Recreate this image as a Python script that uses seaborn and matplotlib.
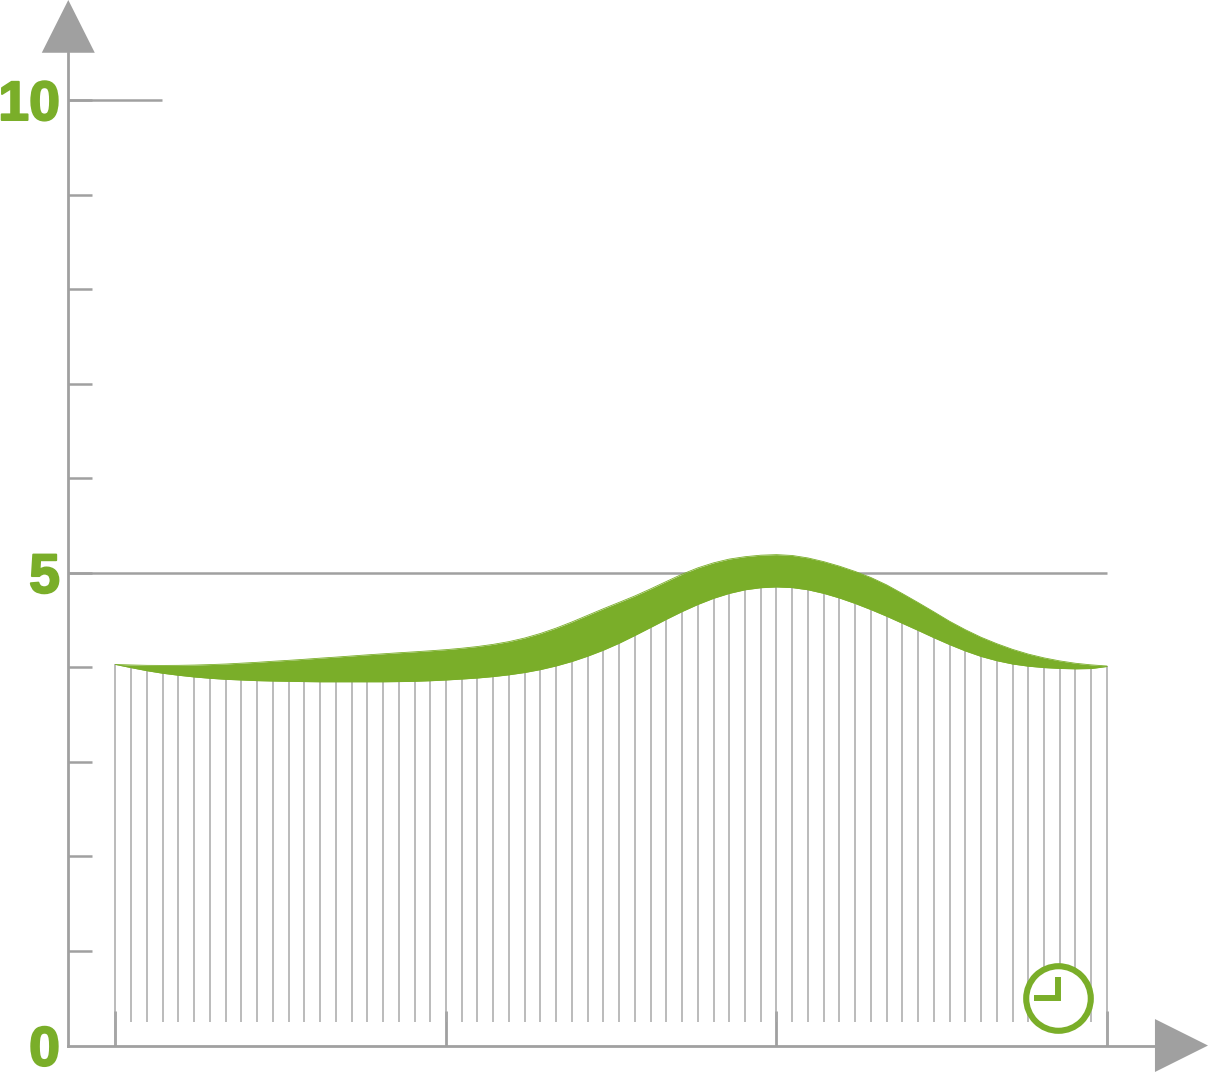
import numpy as np
import matplotlib
matplotlib.use("Agg")
import matplotlib.pyplot as plt
import matplotlib.patheffects as pe
from matplotlib.patches import Polygon
import seaborn as sns

# values, one per vertical line
upper = [4.03, 4.025, 4.021, 4.02, 4.021, 4.024, 4.029, 4.035, 4.044, 4.053,
         4.064, 4.074, 4.085, 4.097, 4.108, 4.12, 4.132, 4.143, 4.154, 4.164,
         4.175, 4.187, 4.202, 4.22, 4.243, 4.272, 4.31, 4.358, 4.415, 4.48,
         4.55, 4.62, 4.687, 4.755, 4.83, 4.908, 4.985, 5.052, 5.105, 5.145,
         5.17, 5.186, 5.192, 5.183, 5.157, 5.118, 5.07, 5.014, 4.95, 4.872,
         4.78, 4.685, 4.587, 4.487, 4.398, 4.318, 4.25, 4.19, 4.14, 4.10,
         4.068, 4.043, 4.026, 4.014]
lower = [4.03, 3.996, 3.964, 3.937, 3.916, 3.898, 3.884, 3.873, 3.866, 3.859,
         3.855, 3.852, 3.849, 3.847, 3.847, 3.847, 3.847, 3.847, 3.849, 3.852,
         3.858, 3.866, 3.876, 3.887, 3.902, 3.921, 3.945, 3.976, 4.015, 4.062,
         4.118, 4.182, 4.255, 4.337, 4.422, 4.508, 4.59, 4.665, 4.73, 4.782,
         4.82, 4.842, 4.85, 4.843, 4.82, 4.782, 4.733, 4.675, 4.61, 4.54,
         4.465, 4.39, 4.313, 4.24, 4.173, 4.115, 4.07, 4.035, 4.012, 3.997,
         3.988, 3.984, 3.987, 4.009]
steps = np.arange(len(upper))
major_steps = [0, 21, 42, 63]
y_ticks = list(range(11))
y_labels = ["0", "", "", "", "", "5", "", "", "", "", "10"]

GREEN = "#7aae29"
GRAY = "#a0a0a0"
LINE_GRAY = "#a8a8a8"

sns.set_theme(style="white")
plt.rcParams["font.family"] = ["Liberation Sans", "DejaVu Sans"]

fig = plt.figure(figsize=(12.08, 10.72), dpi=100)
ax = fig.add_axes([0, 0, 1, 1])
ax.set_xlim(-7.339, 69.42)
ax.set_ylim(-0.28, 11.058)
ax.patch.set_alpha(0)

# axes with their ticks pointing inwards
ax.spines["top"].set_visible(False)
ax.spines["right"].set_visible(False)
for side in ["left", "bottom"]:
    ax.spines[side].set_color(GRAY)
    ax.spines[side].set_linewidth(2.0)
ax.spines["left"].set_position(("data", -3))
ax.spines["left"].set_bounds(0, 10.5)
ax.spines["bottom"].set_position(("data", 0))
ax.spines["bottom"].set_bounds(-3, 66.05)
ax.set_xticks(major_steps)
ax.set_xticklabels([])
ax.set_yticks(y_ticks)
ax.set_yticklabels(y_labels, fontweight="bold", color=GREEN)
ax.tick_params(axis="x", direction="in", length=25.5, width=2.0, color=GRAY, bottom=True)
ax.tick_params(axis="y", direction="in", length=17.3, width=1.8, color=GRAY, left=True,
               labelsize=40, pad=6)
ax.yaxis.get_major_ticks()[0].tick1line.set_visible(False)
for label in ax.get_yticklabels():
    label.set_verticalalignment("center_baseline")
    label.set_path_effects([pe.withStroke(linewidth=1.4, foreground=GREEN)])

# arrow heads
ax.add_patch(Polygon([(-3, 11.058), (-4.684, 10.5), (-1.316, 10.5)], closed=True,
                     facecolor=GRAY, edgecolor="none", clip_on=False))
ax.add_patch(Polygon([(69.42, 0), (66.05, 0.28), (66.05, -0.28)], closed=True,
                     facecolor=GRAY, edgecolor="none", clip_on=False))

# long ticks at 10 and 5
ax.hlines(10, -3, 2.95, color=GRAY, linewidth=1.8)
ax.hlines(5, -3, 63, color=GRAY, linewidth=1.8)

# vertical lines under the band
ax.vlines(steps, 0.249, lower, color=LINE_GRAY, linewidth=1.1)
ax.vlines([0, 63], 0, 0.3, color=LINE_GRAY, linewidth=1.1)

# band
ax.fill_between(steps, lower, upper, color=GREEN, linewidth=0, zorder=3)
sns.lineplot(x=steps, y=upper, color=GREEN, linewidth=0.6, ax=ax, zorder=3)
sns.lineplot(x=steps, y=lower, color=GREEN, linewidth=0.6, ax=ax, zorder=3)

# clock
ax.plot([59.89], [0.502], marker="o", markersize=46.5, markerfacecolor="white",
        markeredgecolor=GREEN, markeredgewidth=4.4, zorder=4, clip_on=False)
ax.plot([58.37, 59.89, 59.89], [0.502, 0.502, 0.724], color=GREEN, linewidth=4.3,
        solid_joinstyle="miter", solid_capstyle="butt", zorder=5)

ax.set_xlabel("")
ax.set_ylabel("")
fig.savefig("out.png", dpi=100)
